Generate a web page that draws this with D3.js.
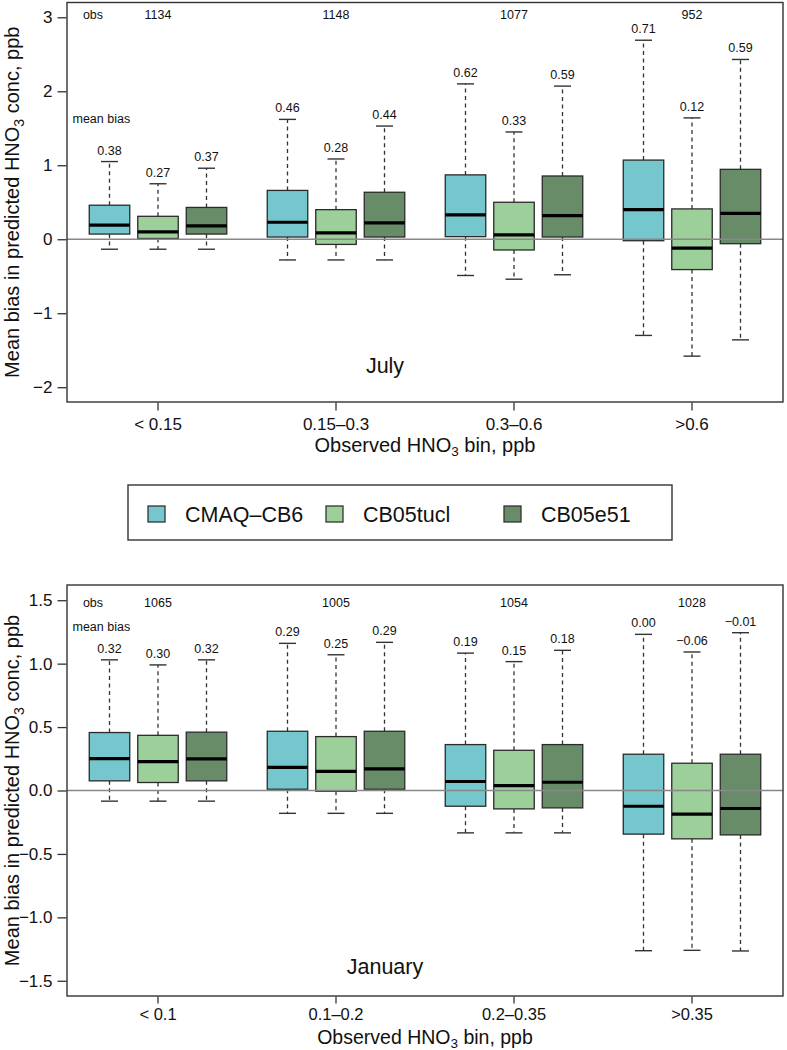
<!DOCTYPE html>
<html>
<head>
<meta charset="utf-8">
<script src="https://cdn.jsdelivr.net/npm/d3@7"></script>
<style>
  html, body { margin: 0; padding: 0; background: #fff; }
  svg { display: block; font-family: "Liberation Sans", Arial, Helvetica, sans-serif; }
</style>
</head>
<body>
<svg id="chart" width="787" height="1050"></svg>
<script>
// ---------------- data ----------------
const series = ["CMAQ–CB6", "CB05tucl", "CB05e51"];
const seriesColors = ["#76c6ce", "#9ccf9a", "#688c67"];

// July panel
const julyBins = ["< 0.15", "0.15–0.3", "0.3–0.6", ">0.6"];
const julyObs = [1134, 1148, 1077, 952];
const julyUpper  = [[1.05, 0.75, 0.96], [1.62, 1.085, 1.53], [2.10, 1.45, 2.07], [2.69, 1.64, 2.43]];
const julyQ3     = [[0.46, 0.31, 0.43], [0.66, 0.40, 0.635], [0.87, 0.50, 0.855], [1.07, 0.41, 0.945]];
const julyMedian = [[0.19, 0.10, 0.18], [0.23, 0.085, 0.22], [0.33, 0.06, 0.32], [0.40, -0.12, 0.35]];
const julyQ1     = [[0.07, 0.01, 0.07], [0.03, -0.07, 0.03], [0.035, -0.145, 0.03], [-0.02, -0.41, -0.06]];
const julyLower  = [[-0.135, -0.135, -0.135], [-0.28, -0.28, -0.28], [-0.49, -0.54, -0.48], [-1.30, -1.58, -1.36]];
const julyMeanBias = [["0.38", "0.27", "0.37"], ["0.46", "0.28", "0.44"], ["0.62", "0.33", "0.59"], ["0.71", "0.12", "0.59"]];
const julyTicks = [-2, -1, 0, 1, 2, 3];

// January panel
const janBins = ["< 0.1", "0.1–0.2", "0.2–0.35", ">0.35"];
const janObs = [1065, 1005, 1054, 1028];
const janUpper  = [[1.03, 0.99, 1.03], [1.16, 1.07, 1.168], [1.083, 1.016, 1.105], [1.231, 1.092, 1.244]];
const janQ3     = [[0.457, 0.435, 0.46], [0.467, 0.425, 0.467], [0.362, 0.317, 0.362], [0.286, 0.215, 0.286]];
const janMedian = [[0.252, 0.228, 0.25], [0.183, 0.15, 0.17], [0.071, 0.039, 0.065], [-0.124, -0.187, -0.142]];
const janQ1     = [[0.076, 0.063, 0.076], [0.01, -0.006, 0.01], [-0.124, -0.145, -0.137], [-0.344, -0.381, -0.35]];
const janLower  = [[-0.084, -0.084, -0.084], [-0.18, -0.18, -0.18], [-0.334, -0.334, -0.334], [-1.263, -1.26, -1.265]];
const janMeanBias = [["0.32", "0.30", "0.32"], ["0.29", "0.25", "0.29"], ["0.19", "0.15", "0.18"], ["0.00", "−0.06", "−0.01"]];
const janTicks = [-1.5, -1.0, -0.5, 0, 0.5, 1.0, 1.5];

// ---------------- drawing ----------------
const svg = d3.select("#chart");
const frameLeft = 67, frameRight = 783;
const minus = s => s.replace(/-/g, "−");

function drawPanel(cfg) {
  const y = d3.scaleLinear().domain(cfg.domain).range([cfg.bottom, cfg.top]);
  const x0 = d3.scaleBand().domain(cfg.bins).range([frameLeft + 2, frameRight - 2]);
  const x1 = d3.scalePoint().domain(series).range([-48.5, 48.5]);
  const boxW = 40.5, capW = 17;
  const g = svg.append("g");

  const rows = [];
  cfg.bins.forEach((b, i) => series.forEach((s, j) => rows.push({
    bin: b, s, j,
    lo: cfg.lower[i][j], q1: cfg.q1[i][j], med: cfg.median[i][j],
    q3: cfg.q3[i][j], hi: cfg.upper[i][j], mb: cfg.meanBias[i][j]
  })));
  const cx = d => x0(d.bin) + x0.bandwidth() / 2 + x1(d.s);

  const box = g.selectAll("g.box").data(rows).enter().append("g");
  // whiskers
  box.append("line").attr("x1", cx).attr("x2", cx)
    .attr("y1", d => y(d.q3)).attr("y2", d => y(d.hi))
    .attr("stroke", "#333").attr("stroke-width", 1.3).attr("stroke-dasharray", "4,3.5");
  box.append("line").attr("x1", cx).attr("x2", cx)
    .attr("y1", d => y(d.q1)).attr("y2", d => y(d.lo))
    .attr("stroke", "#333").attr("stroke-width", 1.3).attr("stroke-dasharray", "4,3.5");
  box.append("line").attr("x1", d => cx(d) - capW / 2).attr("x2", d => cx(d) + capW / 2)
    .attr("y1", d => y(d.hi)).attr("y2", d => y(d.hi)).attr("stroke", "#333").attr("stroke-width", 1.4);
  box.append("line").attr("x1", d => cx(d) - capW / 2).attr("x2", d => cx(d) + capW / 2)
    .attr("y1", d => y(d.lo)).attr("y2", d => y(d.lo)).attr("stroke", "#333").attr("stroke-width", 1.4);
  // boxes
  box.append("rect").attr("x", d => cx(d) - boxW / 2).attr("width", boxW)
    .attr("y", d => y(d.q3)).attr("height", d => y(d.q1) - y(d.q3))
    .attr("fill", d => seriesColors[d.j]).attr("stroke", "#2b2b2b").attr("stroke-width", 1.3);
  // medians
  box.append("line").attr("x1", d => cx(d) - boxW / 2).attr("x2", d => cx(d) + boxW / 2)
    .attr("y1", d => y(d.med)).attr("y2", d => y(d.med)).attr("stroke", "#000").attr("stroke-width", 3.2);
  // mean bias labels
  box.append("text").attr("x", cx).attr("y", d => y(d.hi) - 7)
    .attr("text-anchor", "middle").attr("font-size", 12.5).attr("fill", "#111").text(d => d.mb);

  // zero line
  g.append("line").attr("x1", frameLeft).attr("x2", frameRight).attr("y1", y(0)).attr("y2", y(0))
    .attr("stroke", "#888").attr("stroke-width", 1.3);

  // frame
  g.append("rect").attr("x", frameLeft).attr("y", cfg.top).attr("width", frameRight - frameLeft)
    .attr("height", cfg.bottom - cfg.top).attr("fill", "none").attr("stroke", "#333").attr("stroke-width", 1.4);

  // y axis
  const yAxis = d3.axisLeft(y).tickValues(cfg.ticks).tickSize(9).tickPadding(5)
    .tickFormat(d => minus(cfg.tickFmt(d)));
  const ya = g.append("g").attr("transform", `translate(${frameLeft - 0.5},0)`).call(yAxis);
  ya.select(".domain").remove();
  ya.selectAll("line").attr("stroke", "#333").attr("stroke-width", 1.3);
  ya.selectAll("text").attr("font-size", 17).attr("fill", "#111").attr("font-family", null);

  // x axis
  const xAxis = d3.axisBottom(x0).tickSize(cfg.xTick).tickPadding(cfg.xPad);
  const xa = g.append("g").attr("transform", `translate(0,${cfg.bottom + 0.5})`).call(xAxis);
  xa.select(".domain").remove();
  xa.selectAll("line").attr("stroke", "#333").attr("stroke-width", 1.3);
  xa.selectAll("text").attr("font-size", cfg.xFont).attr("fill", "#111").attr("font-family", null);

  // obs counts
  g.append("text").attr("x", 93).attr("y", y(cfg.obsY) + 4.5).attr("text-anchor", "middle")
    .attr("font-size", 12.5).attr("fill", "#111").text("obs");
  g.selectAll("text.obs").data(cfg.obs).enter().append("text")
    .attr("x", (d, i) => x0(cfg.bins[i]) + x0.bandwidth() / 2).attr("y", y(cfg.obsY) + 4.5)
    .attr("text-anchor", "middle").attr("font-size", 12.5).attr("fill", "#111").text(d => d);
  g.append("text").attr("x", 72.5).attr("y", y(cfg.mbY) + 4.5).attr("font-size", 12.5)
    .attr("fill", "#111").text("mean bias");

  // month label
  g.append("text").attr("x", 385).attr("y", y(cfg.monthY) + 7.5).attr("text-anchor", "middle")
    .attr("font-size", 21.5).attr("fill", "#111").text(cfg.month);

  // axis titles
  const xt = g.append("text").attr("x", (frameLeft + frameRight) / 2).attr("y", cfg.bottom + cfg.xTitleOff)
    .attr("text-anchor", "middle").attr("font-size", cfg.xTitleFont).attr("fill", "#111");
  xt.append("tspan").text("Observed HNO");
  xt.append("tspan").attr("font-size", 13.5).attr("dy", 3.5).text("3");
  xt.append("tspan").attr("dy", -3.5).text(" bin, ppb");

  const ymid = (cfg.top + cfg.bottom) / 2;
  const yt = g.append("text").attr("transform", `translate(19,${ymid}) rotate(-90)`)
    .attr("text-anchor", "middle").attr("font-size", 20).attr("fill", "#111");
  yt.append("tspan").text("Mean bias in predicted HNO");
  yt.append("tspan").attr("font-size", 14).attr("dy", 5).text("3");
  yt.append("tspan").attr("dy", -5).text(" conc, ppb");
}

drawPanel({
  top: 2.5, bottom: 402, domain: [-2.2, 3.2], ticks: julyTicks, tickFmt: d3.format("d"),
  bins: julyBins, obs: julyObs, upper: julyUpper, q3: julyQ3, median: julyMedian, q1: julyQ1,
  lower: julyLower, meanBias: julyMeanBias, obsY: 3.04, mbY: 1.63, monthY: -1.70, month: "July",
  xTick: 8, xPad: 7, xFont: 17, xTitleOff: 50, xTitleFont: 20
});

drawPanel({
  top: 585, bottom: 996, domain: [-1.62, 1.62], ticks: janTicks, tickFmt: d3.format(".1f"),
  bins: janBins, obs: janObs, upper: janUpper, q3: janQ3, median: janMedian, q1: janQ1,
  lower: janLower, meanBias: janMeanBias, obsY: 1.485, mbY: 1.29, monthY: -1.39, month: "January",
  xTick: 7, xPad: 5, xFont: 16.5, xTitleOff: 48, xTitleFont: 19.5
});

// legend
const legend = svg.append("g");
legend.append("rect").attr("x", 128).attr("y", 485).attr("width", 544).attr("height", 55)
  .attr("fill", "#fff").attr("stroke", "#333").attr("stroke-width", 1.4);
const legendX = d3.scaleOrdinal().domain(series).range([148, 326, 504]);
const li = legend.selectAll("g.item").data(series).enter().append("g")
  .attr("transform", d => `translate(${legendX(d)},514)`);
li.append("rect").attr("x", 0).attr("y", -8).attr("width", 17).attr("height", 16)
  .attr("fill", (d, i) => seriesColors[i]).attr("stroke", "#333").attr("stroke-width", 1.3);
li.append("text").attr("x", 37).attr("y", 8).attr("font-size", 21.5).attr("fill", "#111").text(d => d);
</script>
</body>
</html>
